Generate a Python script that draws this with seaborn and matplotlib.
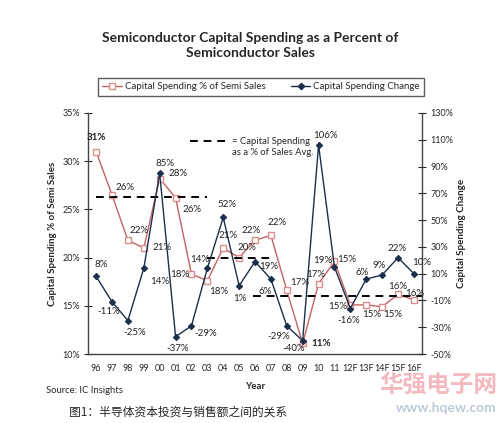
import numpy as np
import seaborn as sns
import matplotlib.pyplot as plt
from matplotlib.lines import Line2D

# Data
years = ['96', '97', '98', '99', '00', '01', '02', '03', '04', '05', '06',
         '07', '08', '09', '10', '11', '12F', '13F', '14F', '15F', '16F']
pct_of_sales = [31, 26.5, 21.8, 21, 28.2, 26.2, 18.3, 17.6, 21, 20, 21.8,
                22.3, 16.6, 11.1, 17.3, 19.6, 15.1, 15.1, 14.9, 16.2, 15.6]
pct_labels = ['31%', '26%', '22%', '21%', '28%', '26%', '18%', '18%', '21%', '20%', '22%',
              '22%', '17%', '11%', '17%', '19%', '15%', '15%', '15%', '16%', '16%']
spend_change = [8, -11, -25, 14, 85, -37, -29, 14, 52, 1, 19,
                6, -29, -40, 106, 15, -16, 6, 9, 22, 10]
avg_values = [26.3, 20.0, 16.0]
avg_from = [0, 7, 9.9]
avg_to = [7, 11, 20.5]

# label offsets in pixels (dx, dy)
pct_offsets = [(0, 14), (13, 7), (11, 10), (18, 0), (18, 5), (16, -12), (-12, 0),
               (11, -11), (5, 12), (8, 10), (-4, 10), (6, 13), (13, 8), (18, 0),
               (-3, 9), (-12, 1), (-13, -2), (5, -10), (11, -8), (0, 8), (1, 7)]
chg_offsets = [(5, 12), (-3, -10), (7, -12), (16, -13), (5, 10), (2, -12), (14, -8),
               (-8, 9), (4, 13), (1, -13), (14, -5), (-6, -12), (-8, -11), (-9, -8),
               (7, 10), (12, 7), (-2, -12), (-4, 7), (-3, 10), (-1, 9), (8, 11)]
bold_labels = ['96', '09']

sns.set_style('white')
plt.rcParams['font.family'] = ['Lato', 'DejaVu Sans']

pink_line = '#C46262'
pink_edge = '#D98E8E'
navy = '#1B2F4B'

fig = plt.figure(figsize=(5.01, 4.23), dpi=100)
ax = fig.add_axes([0.176, 0.163, 0.666, 0.570])
ax2 = ax.twinx()

x = np.arange(len(years))

sns.lineplot(x=x, y=pct_of_sales, ax=ax, color=pink_line, linewidth=1,
             marker='s', markersize=5, markerfacecolor='white',
             markeredgecolor=pink_edge, markeredgewidth=1)
sns.lineplot(x=x, y=spend_change, ax=ax2, color=navy, linewidth=1,
             marker='D', markersize=3.2, markerfacecolor=navy,
             markeredgecolor=navy)

# average lines
ax.hlines(avg_values, avg_from, avg_to, colors='black', linestyles=(0, (4, 3)),
          linewidth=1.4)

# data labels
for i, (v, lab) in enumerate(zip(pct_of_sales, pct_labels)):
    ax.annotate(lab, (x[i], v), xytext=pct_offsets[i], textcoords='offset pixels',
                ha='center', va='center', fontsize=7, color='#222222',
                fontweight='bold' if years[i] in bold_labels else 'normal')
for i, v in enumerate(spend_change):
    ax2.annotate(f'{v}%', (x[i], v), xytext=chg_offsets[i], textcoords='offset pixels',
                 ha='center', va='center', fontsize=7, color='#222222')

# axes styling
ax.set_xlim(-0.5, len(years) - 0.5)
ax.set_ylim(10, 35)
ax2.set_ylim(-50, 130)
ax.set_yticks(np.arange(10, 36, 5))
ax.set_yticklabels([f'{t}%' for t in range(10, 36, 5)])
ax2.set_yticks(np.arange(-50, 131, 20))
ax2.set_yticklabels([f'{t}%' for t in range(-50, 131, 20)])
ax.set_xticks(x)
ax.set_xticklabels(years)
ax.set_xticks(np.arange(-0.5, len(years), 1), minor=True)
ax.tick_params(axis='x', which='major', length=0, labelsize=6.5, pad=7)
ax.tick_params(axis='x', which='minor', length=6, direction='inout', width=0.8)
ax.tick_params(axis='y', length=6, direction='inout', width=0.8, labelsize=6.5, pad=3)
ax2.tick_params(axis='y', length=6, direction='inout', width=0.8, labelsize=6.5, pad=3)

for a in (ax, ax2):
    a.spines['top'].set_visible(False)
    for s in ('left', 'right', 'bottom'):
        a.spines[s].set_color('#444444')
        a.spines[s].set_linewidth(1)
ax.spines['right'].set_visible(False)
ax2.spines['left'].set_visible(False)
ax2.spines['bottom'].set_visible(False)

ax.set_xlabel('Year', fontsize=7, fontweight='bold', labelpad=7)
ax.set_ylabel('Capital Spending % of Semi Sales', fontsize=7, fontweight='bold', labelpad=4)
ax2.set_ylabel('Capital Spending Change', fontsize=7, fontweight='bold', labelpad=3)

# dashed legend note
ax.plot([0.305, 0.416], [0.884, 0.884], transform=ax.transAxes, color='black',
        linestyle=(0, (4, 3)), linewidth=1.4, clip_on=False)
ax.text(0.431, 0.859, '= Capital Spending\nas a % of Sales Avg.', transform=ax.transAxes,
        fontsize=6.8, va='center', ha='left', linespacing=1.3)

# legend
handles = [Line2D([], [], color=pink_line, linewidth=1, marker='s', markersize=5,
                  markerfacecolor='white', markeredgecolor=pink_edge),
           Line2D([], [], color=navy, linewidth=1, marker='D', markersize=3.2,
                  markerfacecolor=navy, markeredgecolor=navy)]
leg = fig.legend(handles, ['Capital Spending % of Semi Sales', 'Capital Spending Change'],
                 loc='center', bbox_to_anchor=(0.521, 0.795), ncol=2, fontsize=7,
                 frameon=True, fancybox=False, edgecolor='#333333', handlelength=2.0,
                 columnspacing=2.6, borderpad=0.45, handletextpad=0.3, borderaxespad=0)
leg.get_frame().set_linewidth(1)

fig.text(0.5, 0.892, 'Semiconductor Capital Spending as a Percent of\nSemiconductor Sales',
         ha='center', va='center', fontsize=10, fontweight='bold', linespacing=1.35)
fig.text(0.092, 0.078, 'Source: IC Insights', fontsize=6.8, ha='left', va='center')
fig.text(0.138, 0.026, '图1：半导体资本投资与销售额之间的关系', fontsize=8.5, ha='left',
         va='center', family=['Noto Sans CJK SC', 'DejaVu Sans'])

# watermark
fig.text(0.992, 0.09, '华强电子网', fontsize=17, ha='right', va='center', color='#F3B9BE',
         fontweight='bold', family=['Noto Sans CJK SC', 'DejaVu Sans'])
fig.text(0.992, 0.035, 'www.hqew.com', fontsize=10, ha='right', va='center',
         color='#BFC9DA', fontweight='bold')

fig.savefig('out.png', dpi=100)
